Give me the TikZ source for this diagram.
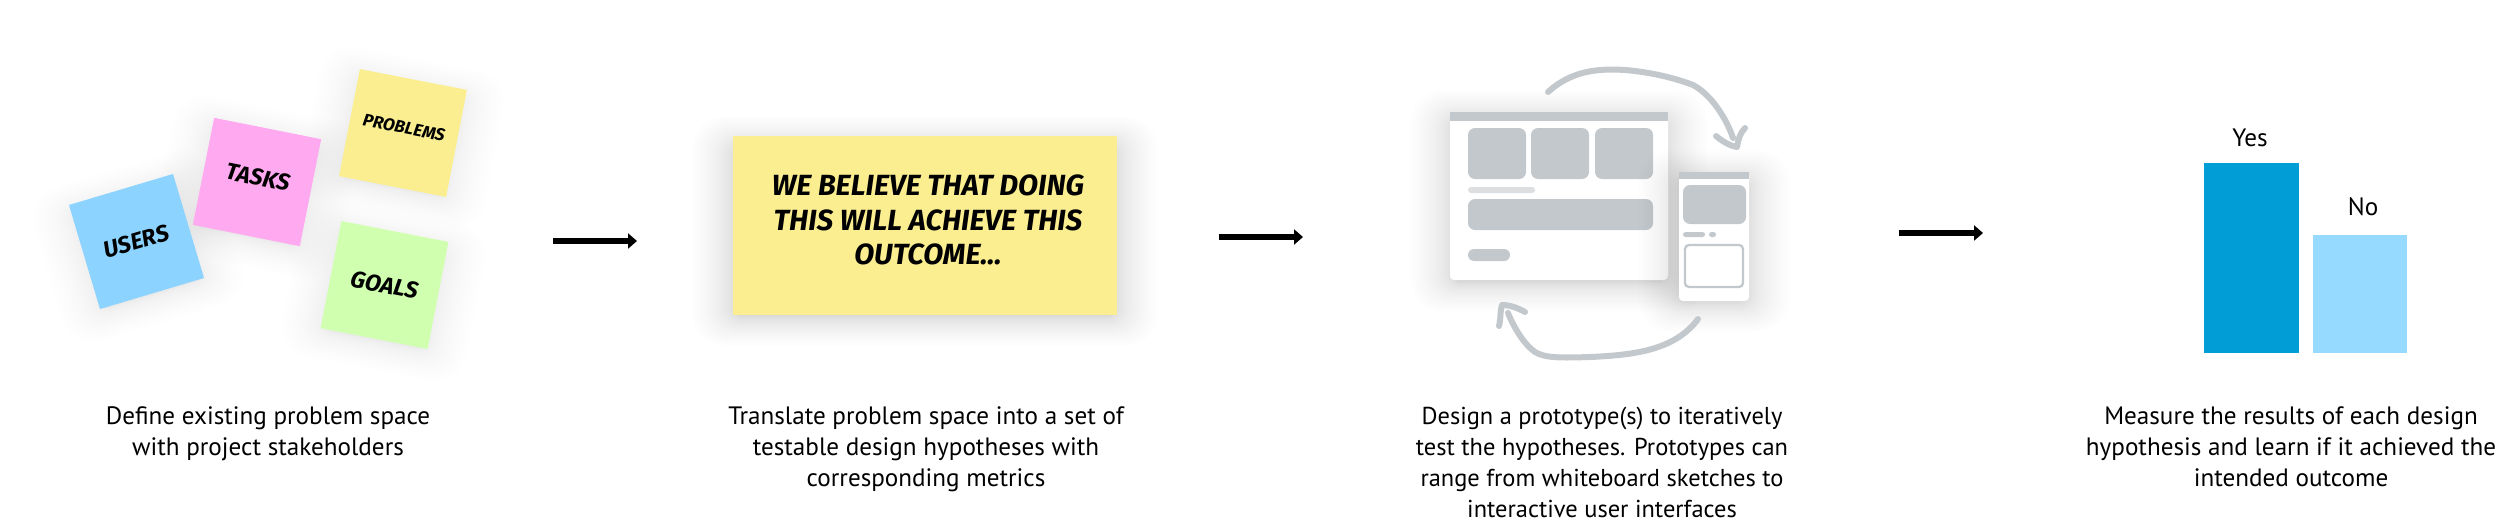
\documentclass[tikz,border=0pt]{standalone}
\usepackage{fontspec}
\setsansfont{PT Sans}
\newfontfamily\markerfont{Fira Sans}
\usetikzlibrary{arrows.meta}
\definecolor{skynote}{HTML}{8CD3FF}
\definecolor{pinknote}{HTML}{FFA9F0}
\definecolor{yellownote}{HTML}{FAEE90}
\definecolor{greennote}{HTML}{D0FFB0}
\definecolor{wiregray}{HTML}{C3C8CC}
\definecolor{palegray}{HTML}{DCDEDF}
\definecolor{yesblue}{HTML}{009DD6}
\definecolor{noblue}{HTML}{96DAFF}
\tikzset{
  note/.style={inner sep=0pt,align=center,text=black,
    font=\markerfont\bfseries\itshape\fontsize{6.6}{7}\selectfont},
  caption/.style={align=center,anchor=north,text=black,inner sep=0pt,
    font=\sffamily\fontsize{7.15}{8.87}\selectfont},
  barlabel/.style={text=black,anchor=base,inner sep=0pt,
    font=\sffamily\fontsize{7.15}{8.87}\selectfont},
  wire/.style={fill=wiregray,rounded corners=0.7mm},
  sketch/.style={draw=wiregray,line width=0.6mm,line cap=round,line join=round},
  flow/.style={-{Triangle[length=0.9mm,width=1.5mm]},line width=0.6mm}
}
% soft shadow: centre x, centre y, half width, half height, angle, layer opacity
\newcommand{\softshadow}[6]{
  \foreach \i in {1,...,22}
    \fill[black,opacity=#6,rounded corners={0.4pt*\i},rotate around={#5:(#1,#2)}]
      (#1-#3-\i*\i/11,#2-#4-\i*\i/16+5) rectangle (#1+#3+\i*\i/11,#2+#4+\i*\i/16+5);
}
\begin{document}
\begin{tikzpicture}[x=0.01cm,y=-0.01cm]
  \useasboundingbox (0,0) rectangle (2500,524);

  % sticky notes
  \softshadow{136.5}{241.5}{50}{50}{16.6}{0.0025}
  \softshadow{257}{182}{50}{50}{-11.3}{0.0025}
  \softshadow{403}{133}{50}{50}{-11}{0.0025}
  \softshadow{384.5}{285}{50}{50}{-11}{0.0025}
  \node[note,minimum size=1.085cm,fill=skynote,rotate=16.6] (users) at (136.5,241.5) {USERS};
  \node[note,minimum size=1.09cm,fill=pinknote,rotate=-11.3] (tasks) at (257,182) {\raisebox{1mm}{TASKS}};
  \node[note,minimum size=1.09cm,fill=yellownote,rotate=-11] (problems) at (403,133) {\fontsize{4.9}{5}\selectfont\raisebox{1.1mm}{PROBLEMS}};
  \node[note,minimum size=1.09cm,fill=greennote,rotate=-11] (goals) at (384.5,285) {GOALS};

  % hypothesis card
  \softshadow{925}{226}{188}{84}{0}{0.006}
  \fill[yellownote] (733,136) rectangle (1117,315);
  \node[note,font=\markerfont\bfseries\itshape\fontsize{8.3}{9.8}\selectfont] (belief) at (928,220)
    {WE BELIEVE THAT DOING\\THIS WILL ACHIEVE THIS\\OUTCOME...};

  % browser window
  \softshadow{1559}{196}{104}{80}{0}{0.0075}
  \fill[white,rounded corners=0.4mm] (1450,112) rectangle (1668,280);
  \fill[wiregray] (1450,112) rectangle (1668,121);
  \fill[wire] (1468,128) rectangle (1526,179);
  \fill[wire] (1531,128) rectangle (1589,179);
  \fill[wire] (1595,128) rectangle (1653,179);
  \fill[palegray,rounded corners=0.3mm] (1468,187) rectangle (1535,193);
  \fill[wire] (1468,199) rectangle (1653,230);
  \fill[wiregray,rounded corners=0.6mm] (1468,249) rectangle (1510,261);

  % phone
  \softshadow{1714}{236}{31}{60}{0}{0.0075}
  \fill[white,rounded corners=0.4mm] (1679,172) rectangle (1749,301);
  \fill[wiregray] (1679,172) rectangle (1749,179);
  \fill[wire] (1683,185) rectangle (1746,224);
  \fill[wiregray,rounded corners=0.25mm] (1683,232) rectangle (1705,237);
  \fill[wiregray,rounded corners=0.25mm] (1709,232) rectangle (1716,237);
  \draw[wiregray,line width=0.23mm,rounded corners=0.4mm] (1685,245) rectangle (1743,287);

  % hand drawn loop
  \draw[sketch] (1548,92) .. controls (1570,72) and (1595,68) .. (1625,70)
    .. controls (1650,72) and (1675,78) .. (1693,85)
    .. controls (1712,95) and (1727,120) .. (1733,138);
  \draw[sketch] (1716,136) .. controls (1722,141) and (1730,146) .. (1737,147)
    .. controls (1738,140) and (1740,133) .. (1745,128);
  \draw[sketch] (1698,319) .. controls (1675,350) and (1635,355) .. (1590,357)
    .. controls (1560,358) and (1545,358) .. (1535,352)
    .. controls (1525,345) and (1515,330) .. (1508,313);
  \draw[sketch] (1499,326) .. controls (1501,318) and (1500,310) .. (1502,305)
    .. controls (1510,305) and (1518,308) .. (1525,312);

  % result bars
  \fill[yesblue] (2204,163) rectangle (2299,353);
  \fill[noblue] (2313,235) rectangle (2407,353);
  \node[barlabel] (yes) at (2250,146) {Yes};
  \node[barlabel] (no) at (2363,215) {No};

  % flow arrows
  \coordinate (a1) at (553,241);
  \coordinate (a2) at (637,241);
  \coordinate (b1) at (1219,237);
  \coordinate (b2) at (1303,237);
  \coordinate (c1) at (1899,233);
  \coordinate (c2) at (1983,233);
  \draw[flow] (a1) -- (a2);
  \draw[flow] (b1) -- (b2);
  \draw[flow] (c1) -- (c2);

  % captions
  \node[caption] (define) at (268,406) {Define existing problem space\\with project stakeholders};
  \node[caption] (translate) at (926,406) {Translate problem space into a set of\\testable design hypotheses with\\corresponding metrics};
  \node[caption,font=\sffamily\fontsize{6.95}{8.87}\selectfont] (prototype) at (1602,406) {Design a prototype(s) to iteratively\\test the hypotheses. Prototypes can\\range from whiteboard sketches to\\interactive user interfaces};
  \node[caption] (measure) at (2291,406) {Measure the results of each design\\hypothesis and learn if it achieved the\\intended outcome};
\end{tikzpicture}
\end{document}
